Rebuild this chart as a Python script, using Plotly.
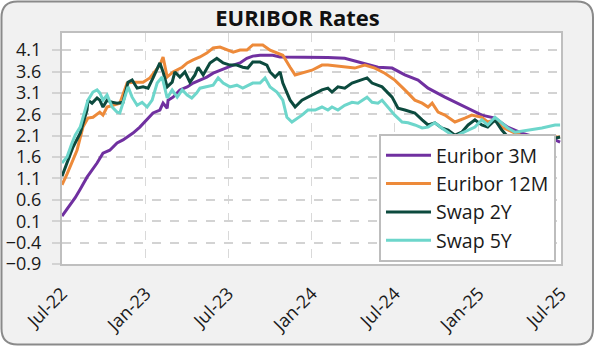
import plotly.graph_objects as go

# ---------------- data ----------------
e3m_dates = ["2022-07-01", "2022-07-12", "2022-07-23", "2022-07-30", "2022-08-10", "2022-08-25",
             "2022-09-16", "2022-09-29", "2022-10-14", "2022-10-30", "2022-11-12", "2022-11-21",
             "2022-12-04", "2022-12-19", "2023-01-04", "2023-01-17", "2023-02-01", "2023-02-08",
             "2023-02-17", "2023-02-19", "2023-03-02", "2023-03-17", "2023-04-02", "2023-04-15",
             "2023-04-30", "2023-05-15", "2023-05-29", "2023-06-13", "2023-06-28", "2023-07-12",
             "2023-07-27", "2023-08-11", "2023-08-24", "2023-09-09", "2023-09-24", "2023-10-07",
             "2023-10-23", "2023-11-07", "2023-11-25", "2024-02-05", "2024-03-13", "2024-04-20",
             "2024-05-25", "2024-06-25", "2024-07-23", "2024-08-21", "2024-09-12", "2024-10-19",
             "2024-11-25", "2024-12-09", "2025-01-08", "2025-02-06", "2025-03-06", "2025-04-06",
             "2025-05-05", "2025-06-18", "2025-06-29"]
e3m_vals = [0.22, 0.38, 0.55, 0.65, 0.85, 1.13,
            1.46, 1.69, 1.76, 1.93, 2.0, 2.07,
            2.16, 2.3, 2.47, 2.63, 2.7, 2.86,
            2.74, 2.93, 3.0, 3.17, 3.24, 3.33,
            3.4, 3.47, 3.56, 3.63, 3.7, 3.75,
            3.8, 3.91, 3.96, 3.98, 3.98, 3.98,
            3.94, 3.94, 3.93, 3.93, 3.91, 3.8,
            3.7, 3.68, 3.52, 3.4, 3.21, 3.0,
            2.81, 2.74, 2.58, 2.51, 2.3, 2.16,
            2.07, 2.0, 1.95]

e12m_dates = ["2022-07-01", "2022-07-12", "2022-08-03", "2022-08-16", "2022-08-27", "2022-09-07",
              "2022-09-22", "2022-09-29", "2022-10-08", "2022-10-21", "2022-11-05", "2022-11-21",
              "2022-12-04", "2022-12-26", "2023-01-10", "2023-02-01", "2023-02-08", "2023-02-17",
              "2023-03-02", "2023-03-22", "2023-04-02", "2023-04-15", "2023-04-30", "2023-05-15",
              "2023-05-29", "2023-06-13", "2023-06-28", "2023-07-12", "2023-07-27", "2023-08-11",
              "2023-08-24", "2023-09-15", "2023-10-01", "2023-10-16", "2023-10-29", "2023-11-14",
              "2023-11-25", "2024-01-01", "2024-01-23", "2024-02-05", "2024-03-13", "2024-04-04",
              "2024-04-26", "2024-05-18", "2024-06-09", "2024-07-01", "2024-07-23", "2024-08-14",
              "2024-08-30", "2024-09-12", "2024-09-21", "2024-10-04", "2024-10-19", "2024-11-10",
              "2024-12-02", "2024-12-17", "2025-01-08", "2025-01-21", "2025-02-06", "2025-02-21",
              "2025-03-22", "2025-04-13", "2025-05-05", "2025-06-02", "2025-06-29"]
e12m_vals = [0.95, 1.2, 1.76, 2.3, 2.51, 2.53,
             2.65, 2.58, 2.77, 2.81, 2.86, 3.33,
             3.35, 3.35, 3.45, 3.75, 3.94, 3.47,
             3.59, 3.7, 3.8, 3.87, 3.94, 4.03,
             4.15, 4.17, 4.1, 4.05, 4.1, 4.1,
             4.22, 4.22, 4.1, 4.03, 3.98, 3.7,
             3.52, 3.63, 3.75, 3.75, 3.7, 3.68,
             3.75, 3.68, 3.56, 3.4, 3.17, 2.93,
             2.86, 2.77, 2.86, 2.65, 2.58, 2.42,
             2.51, 2.58, 2.53, 2.42, 2.47, 2.3,
             2.16, 2.07, 2.07, 2.07, 2.07]

s2y_dates = ["2022-07-01", "2022-07-12", "2022-07-25", "2022-08-10", "2022-08-25", "2022-08-27",
             "2022-09-05", "2022-09-16", "2022-09-22", "2022-09-29", "2022-10-08", "2022-10-19",
             "2022-10-30", "2022-11-12", "2022-11-23", "2022-12-02", "2022-12-13", "2022-12-26",
             "2023-01-06", "2023-01-17", "2023-02-01", "2023-02-08", "2023-02-17", "2023-02-28",
             "2023-03-06", "2023-03-17", "2023-03-28", "2023-04-08", "2023-04-19", "2023-04-26",
             "2023-05-07", "2023-05-22", "2023-06-06", "2023-06-20", "2023-07-05", "2023-07-20",
             "2023-08-02", "2023-08-13", "2023-08-24", "2023-09-09", "2023-09-24", "2023-10-01",
             "2023-10-12", "2023-10-23", "2023-10-29", "2023-11-14", "2023-11-25", "2023-12-10",
             "2023-12-23", "2024-01-08", "2024-01-23", "2024-02-05", "2024-02-14", "2024-02-27",
             "2024-03-13", "2024-03-29", "2024-04-20", "2024-05-01", "2024-05-12", "2024-06-03",
             "2024-06-25", "2024-07-08", "2024-07-23", "2024-08-14", "2024-08-30", "2024-09-12",
             "2024-09-27", "2024-10-12", "2024-10-26", "2024-11-10", "2024-11-25", "2024-12-09",
             "2024-12-24", "2025-01-08", "2025-01-21", "2025-02-06", "2025-02-21", "2025-03-06",
             "2025-03-22", "2025-04-06", "2025-05-05", "2025-06-02", "2025-06-29"]
s2y_vals = [1.15, 1.46, 1.83, 2.16, 2.7, 2.93,
            2.86, 2.98, 2.93, 2.77, 2.93, 2.88,
            2.86, 2.88, 3.35, 3.4, 3.21, 3.24,
            3.21, 3.45, 3.8, 3.59, 3.24, 3.35,
            3.59, 3.47, 3.59, 3.35, 3.52, 3.7,
            3.52, 3.8, 3.91, 3.8, 3.75, 3.75,
            3.7, 3.68, 3.82, 3.82, 3.75, 3.59,
            3.47, 3.59, 3.33, 2.93, 2.77, 2.93,
            3.0, 3.1, 3.17, 3.21, 3.12, 3.24,
            3.21, 3.33, 3.4, 3.45, 3.33, 3.24,
            3.0, 2.74, 2.7, 2.63, 2.47, 2.35,
            2.4, 2.28, 2.23, 2.11, 2.18, 2.35,
            2.47, 2.35, 2.3, 2.47, 2.23, 2.07,
            1.88, 1.93, 1.95, 2.0, 2.07]

s5y_dates = ["2022-07-01", "2022-07-12", "2022-07-23", "2022-07-30", "2022-08-10", "2022-08-21",
             "2022-08-27", "2022-09-07", "2022-09-16", "2022-09-22", "2022-09-29", "2022-10-08",
             "2022-10-19", "2022-10-30", "2022-11-05", "2022-11-16", "2022-11-23", "2022-12-02",
             "2022-12-13", "2022-12-24", "2023-01-04", "2023-01-15", "2023-01-26", "2023-02-06",
             "2023-02-17", "2023-02-28", "2023-03-11", "2023-03-22", "2023-04-02", "2023-04-12",
             "2023-04-23", "2023-04-30", "2023-05-15", "2023-05-29", "2023-06-09", "2023-06-20",
             "2023-07-05", "2023-07-20", "2023-08-02", "2023-08-13", "2023-08-24", "2023-09-09",
             "2023-09-20", "2023-10-01", "2023-10-16", "2023-10-29", "2023-11-07", "2023-11-18",
             "2023-11-25", "2023-12-10", "2023-12-23", "2024-01-08", "2024-01-23", "2024-02-05",
             "2024-02-14", "2024-02-27", "2024-03-13", "2024-03-29", "2024-04-11", "2024-05-01",
             "2024-05-12", "2024-05-25", "2024-06-03", "2024-06-16", "2024-07-01", "2024-07-17",
             "2024-07-30", "2024-08-14", "2024-08-30", "2024-09-12", "2024-09-27", "2024-10-12",
             "2024-10-26", "2024-11-10", "2024-11-25", "2024-12-09", "2024-12-24", "2025-01-08",
             "2025-01-21", "2025-02-06", "2025-02-21", "2025-03-06", "2025-03-22", "2025-04-19",
             "2025-05-20", "2025-06-18", "2025-06-29"]
s5y_vals = [1.46, 1.6, 1.93, 2.11, 2.3, 2.7,
            2.93, 3.12, 3.17, 3.1, 2.93, 3.05,
            2.77, 2.65, 2.63, 3.0, 3.24, 3.0,
            2.81, 2.88, 2.77, 2.93, 3.33, 3.47,
            2.98, 3.17, 3.0, 3.17, 3.05, 2.98,
            3.1, 3.21, 3.24, 3.28, 3.45, 3.33,
            3.24, 3.28, 3.21, 3.28, 3.33, 3.33,
            3.45, 3.24, 3.12, 2.93, 2.53, 2.42,
            2.47, 2.58, 2.7, 2.7, 2.77, 2.7,
            2.77, 2.7, 2.81, 2.88, 2.86, 3.0,
            2.88, 2.86, 2.93, 2.77, 2.58, 2.42,
            2.4, 2.35, 2.28, 2.3, 2.4, 2.28,
            2.18, 2.07, 2.16, 2.23, 2.3, 2.47,
            2.35, 2.53, 2.4, 2.28, 2.18, 2.23,
            2.28, 2.35, 2.35]

series_names = ["Euribor 3M", "Euribor 12M", "Swap 2Y", "Swap 5Y"]
series_colors = ["#7030a0", "#ed8a3a", "#0c4a3e", "#6dd6cb"]

y_range = [-0.9, 4.5]
y_tick0 = -0.9
y_dtick = 0.5
x_range = ["2022-07-01", "2025-07-01"]

# ---------------- figure ----------------
W, H = 595, 346
ML, MR, MT, MB = 62, 34, 33, 82
PW, PH = W - ML - MR, H - MT - MB

FONT = "Open Sans"

fig = go.Figure()
for name, color, xs, ys in zip(series_names, series_colors,
                               [e3m_dates, e12m_dates, s2y_dates, s5y_dates],
                               [e3m_vals, e12m_vals, s2y_vals, s5y_vals]):
    fig.add_trace(go.Scatter(x=xs, y=ys, mode="lines", name=name,
                             line=dict(color=color, width=3)))


def px2paper(px, py):
    return (px - ML) / PW, (H - MB - py) / PH


def rounded_rect_path(x0, y0, x1, y1, r):
    def P(px, py):
        a, b = px2paper(px, py)
        return f"{a:.5f},{b:.5f}"
    return (f"M {P(x0 + r, y0)} L {P(x1 - r, y0)} Q {P(x1, y0)} {P(x1, y0 + r)} "
            f"L {P(x1, y1 - r)} Q {P(x1, y1)} {P(x1 - r, y1)} "
            f"L {P(x0 + r, y1)} Q {P(x0, y1)} {P(x0, y1 - r)} "
            f"L {P(x0, y0 + r)} Q {P(x0, y0)} {P(x0 + r, y0)} Z")


fig.add_shape(type="path", xref="paper", yref="paper", layer="below",
              path=rounded_rect_path(1.5, 1.5, 593, 344.5, 16),
              fillcolor="#f1f1f1", line=dict(color="#8a8a8a", width=2))
fig.add_shape(type="rect", xref="paper", yref="paper", layer="below",
              x0=0, y0=0, x1=1, y1=1, fillcolor="white", line=dict(width=0))

lg_x1, lg_y1 = px2paper(556, 262)

fig.update_layout(
    width=W, height=H,
    margin=dict(l=ML, r=MR, t=MT, b=MB, pad=0, autoexpand=False),
    paper_bgcolor="white",
    plot_bgcolor="white",
    font=dict(family=FONT, color="#1a1a1a"),
    title=dict(text="<b>EURIBOR Rates</b>", x=0.5, xanchor="center",
               y=1 - 18 / H, yanchor="middle",
               font=dict(family=FONT, size=22, color="#111")),
    showlegend=True,
    legend=dict(x=lg_x1, xanchor="right", y=lg_y1, yanchor="bottom",
                bgcolor="white", bordercolor="#bdbdbd", borderwidth=2,
                itemwidth=45,
                font=dict(family=FONT, size=19.5, color="#1a1a1a")),
    xaxis=dict(type="date", range=x_range, tick0=x_range[0], dtick="M6",
               tickformat="%b-%y", tickangle=-45, automargin=False,
               tickfont=dict(family=FONT, size=18, color="#1a1a1a"),
               ticklabelstandoff=10,
               showgrid=True, gridcolor="#d9d9d9", griddash="dash", gridwidth=1,
               showline=True, mirror=True, linecolor="#bfbfbf", linewidth=2,
               ticks="", zeroline=False),
    yaxis=dict(range=y_range, tickmode="linear", tick0=y_tick0, dtick=y_dtick,
               tickformat=".1f", automargin=False,
               tickfont=dict(family=FONT, size=18, color="#1a1a1a"),
               ticklabelstandoff=7,
               showgrid=True, gridcolor="#d3d3d3", griddash="dash", gridwidth=2,
               showline=True, mirror=True, linecolor="#bfbfbf", linewidth=2,
               ticks="outside", ticklen=8, tickcolor="#d3d3d3", tickwidth=2,
               zeroline=False),
)

fig.write_html("out.html")
